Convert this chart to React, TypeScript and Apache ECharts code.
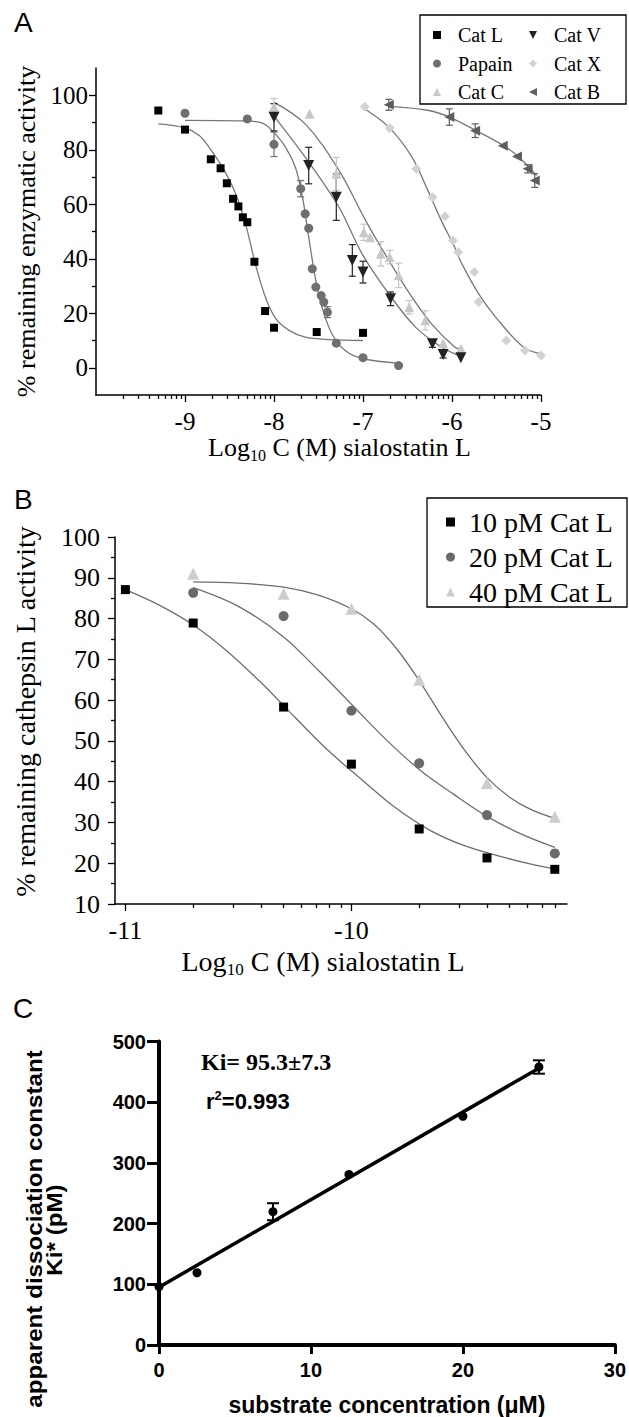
import React, { useEffect, useRef } from "react";
import * as echarts from "echarts";

const SERIF = '"Liberation Serif", "Times New Roman", serif';
const SANS = '"Liberation Sans", Arial, Helvetica, sans-serif';

// ---------- Panel A (x = log10 molar concentration) ----------
const catLX = [-9.3, -9.0, -8.71, -8.6, -8.53, -8.46, -8.4, -8.35, -8.3, -8.22, -8.1, -8.0, -7.52, -7.0];
const catLY = [94.4, 87.4, 76.5, 73.2, 67.7, 62.0, 59.2, 55.2, 53.4, 38.9, 20.8, 14.7, 13.1, 12.8];
const catLFitX = [-9.3, -9.0, -8.84, -8.73, -8.58, -8.43, -8.32, -8.2, -8.09, -7.98, -7.83, -7.65, -7.38, -7.0];
const catLFitY = [89.5, 88.0, 85.2, 80.9, 73.6, 63.8, 52.8, 36.9, 25.3, 18.0, 13.7, 11.2, 10.3, 10.0];

const papainX = [-9.0, -8.3, -8.0, -7.7, -7.65, -7.61, -7.57, -7.53, -7.47, -7.44, -7.4, -7.3, -7.0, -6.6];
const papainY = [93.4, 91.3, 82.0, 65.7, 56.5, 51.2, 36.3, 29.6, 26.5, 24.1, 20.4, 9.0, 3.7, 0.8];
const papainErr = [0, 0, 4.5, 3, 0, 0, 0, 0, 0, 0, 2, 0, 0, 0];
const papainFitX = [-9.0, -8.35, -8.13, -8.02, -7.87, -7.76, -7.68, -7.61, -7.53, -7.46, -7.35, -7.2, -7.0, -6.6];
const papainFitY = [90.8, 90.6, 89.8, 87.0, 80.9, 73.6, 62.6, 47.9, 32.0, 22.2, 12.5, 6.3, 3.3, 1.7];

const catVX = [-8.0, -7.61, -7.3, -7.12, -7.0, -6.69, -6.22, -6.1, -5.9];
const catVY = [91.9, 74.2, 62.6, 39.4, 35.1, 25.3, 8.8, 4.9, 3.7];
const catVErr = [5, 6.7, 8.5, 5.8, 4, 2.5, 1.3, 1.3, 0];
const catVFitX = [-8.02, -7.65, -7.27, -7.01, -6.71, -6.41, -6.12, -5.97, -5.9];
const catVFitY = [93.2, 77.3, 58.9, 41.8, 27.1, 14.9, 7.6, 5.1, 4.5];

const catCX = [-8.0, -7.6, -7.3, -6.99, -6.92, -6.8, -6.7, -6.6, -6.48, -6.3, -6.1, -5.9];
const catCY = [95.8, 93.2, 71.2, 49.7, 47.9, 41.8, 40.6, 33.9, 22.2, 17.4, 9.0, 7.0];
const catCErr = [3, 0, 6, 3, 0, 4.5, 2.5, 4.5, 2.5, 3.5, 0, 0];
const catCFitX = [-8.0, -7.65, -7.27, -6.97, -6.71, -6.45, -6.23, -5.97, -5.9];
const catCFitY = [97.4, 89.5, 72.4, 54.0, 39.4, 25.9, 16.1, 7.6, 6.8];

const catXX = [-6.98, -6.7, -6.4, -6.22, -6.08, -5.99, -5.93, -5.75, -5.7, -5.39, -5.18, -5.0];
const catXY = [95.8, 88.0, 73.0, 62.6, 55.5, 46.7, 42.4, 35.1, 24.1, 10.0, 6.3, 4.5];
const catXFitX = [-7.01, -6.71, -6.45, -6.27, -6.12, -5.97, -5.89, -5.7, -5.51, -5.2, -5.0];
const catXFitY = [95.6, 88.3, 77.3, 65.0, 54.0, 44.2, 38.2, 27.1, 18.6, 7.6, 5.1];

const catBX = [-6.71, -6.03, -5.74, -5.43, -5.27, -5.15, -5.07];
const catBY = [96.5, 92.0, 87.0, 81.5, 77.5, 73.0, 68.7];
const catBErr = [2, 3, 2.5, 0, 0, 1.5, 2.5];
const catBFitX = [-6.69, -6.26, -6.03, -5.74, -5.43, -5.25, -5.05];
const catBFitY = [95.9, 94.4, 92.0, 87.2, 81.7, 77.3, 70.5];

const aXTicks = [-9, -8, -7, -6, -5];
const aDecades = [-10, -9, -8, -7, -6];
const aYTicks = [0, 20, 40, 60, 80, 100];
const aYMinor = [10, 30, 50, 70, 90];

// ---------- Panel B ----------
const b10X = [-11, -10.7, -10.3, -10, -9.7, -9.4, -9.1];
const b10Y = [87.1, 78.9, 58.3, 44.3, 28.4, 21.3, 18.5];
const b20X = [-10.7, -10.3, -10, -9.7, -9.4, -9.1];
const b20Y = [86.3, 80.6, 57.4, 44.5, 31.8, 22.4];
const b40X = [-10.7, -10.3, -10, -9.7, -9.4, -9.1];
const b40Y = [91.0, 86.1, 82.4, 65.0, 39.7, 31.4];
const b10FitX = [-11, -10.85, -10.7, -10.55, -10.4, -10.25, -10.1, -9.95, -9.8, -9.65, -9.5, -9.35, -9.2, -9.1];
const b10FitY = [87.1, 83.3, 78.4, 72.0, 64.3, 55.8, 47.5, 40.3, 33.4, 28.0, 24.3, 21.8, 19.7, 18.6];
const b20FitX = [-10.7, -10.5, -10.3, -10.15, -10.0, -9.85, -9.7, -9.55, -9.4, -9.25, -9.1];
const b20FitY = [87.6, 83.0, 75.5, 67.5, 59.0, 50.5, 43.0, 37.0, 31.5, 27.2, 23.9];
const b40FitX = [-10.7, -10.5, -10.3, -10.15, -10.0, -9.9, -9.8, -9.7, -9.6, -9.5, -9.4, -9.3, -9.2, -9.1];
const b40FitY = [89.0, 88.7, 87.7, 85.8, 82.4, 78.6, 72.6, 64.8, 56.0, 47.8, 41.0, 36.2, 33.0, 31.0];

const bXMin = -11.046;
const bXMax = -9.046;
const bXTicks = [-11, -10];
const bDecades = [-11, -10];
const bYTicks = [10, 20, 30, 40, 50, 60, 70, 80, 90, 100];
const bYMinor = [15, 25, 35, 45, 55, 65, 75, 85, 95];

// ---------- Panel C ----------
const cX = [0, 2.5, 7.5, 12.5, 20, 25];
const cY = [96, 119, 219.6, 281, 376.8, 458];
const cErr = [0, 0, 14, 0, 0, 11];
const cFitX = [0, 25];
const cFitY = [95.3, 456];

const LOG_MULTS = [2, 3, 4, 5, 6, 7, 8, 9];
const aXMinor = aDecades.flatMap((d) => LOG_MULTS.map((k) => d + Math.log10(k)));
const bXMinor = bDecades.flatMap((d) => LOG_MULTS.map((k) => d + Math.log10(k)));

const zip = (xs: number[], ys: number[]) => xs.map((x, i) => [x, ys[i]]);

function scatter(name: string, xs: number[], ys: number[], axis: number, symbol: string, size: number, color: string, rotate = 0) {
  return {
    type: "scatter",
    name,
    xAxisIndex: axis,
    yAxisIndex: axis,
    data: zip(xs, ys),
    symbol,
    symbolSize: size,
    symbolRotate: rotate,
    itemStyle: { color, opacity: 1 },
    z: 5,
    silent: true,
  };
}

function fit(name: string, xs: number[], ys: number[], axis: number, color: string, width: number, smooth: number | boolean) {
  return {
    type: "line",
    name,
    xAxisIndex: axis,
    yAxisIndex: axis,
    data: zip(xs, ys),
    showSymbol: false,
    symbol: "none",
    smooth,
    lineStyle: { color, width },
    z: 3,
    silent: true,
  };
}

function errorBars(name: string, xs: number[], ys: number[], errs: number[], axis: number, color: string, cap: number, lw: number) {
  const data = xs
    .map((x, i) => [x, ys[i] - errs[i], ys[i] + errs[i], errs[i]])
    .filter((d) => d[3] > 0);
  return {
    type: "custom",
    name,
    xAxisIndex: axis,
    yAxisIndex: axis,
    data,
    encode: { x: 0, y: [1, 2] },
    z: 4,
    silent: true,
    renderItem: (params: any, api: any) => {
      const x = api.value(0);
      const top = api.coord([x, api.value(2)]);
      const bot = api.coord([x, api.value(1)]);
      const st = { stroke: color, lineWidth: lw };
      return {
        type: "group",
        children: [
          { type: "line", shape: { x1: top[0], y1: top[1], x2: bot[0], y2: bot[1] }, style: st },
          { type: "line", shape: { x1: top[0] - cap, y1: top[1], x2: top[0] + cap, y2: top[1] }, style: st },
          { type: "line", shape: { x1: bot[0] - cap, y1: bot[1], x2: bot[0] + cap, y2: bot[1] }, style: st },
        ],
      };
    },
  };
}

const thin = { color: "#000", width: 1.5 };
const tickThin = { color: "#000", width: 1.3 };

function minorAxis(gridIndex: number, min: number, max: number, values: number[], position: string) {
  return {
    type: "value",
    gridIndex,
    min,
    max,
    position,
    offset: 0,
    axisLine: { show: false, onZero: false },
    axisTick: { show: true, customValues: values, length: 4, lineStyle: tickThin },
    axisLabel: { show: false },
    splitLine: { show: false },
  };
}

const logTitle = (size: number, subSize: number) => ({
  fontFamily: SERIF,
  fontSize: size,
  color: "#000",
  rich: {
    a: { fontFamily: SERIF, fontSize: size, color: "#000" },
    s: { fontFamily: SERIF, fontSize: subSize, color: "#000", padding: [subSize, 0, 0, 0] },
  },
});

const DOWN_TRI = "path://M0,0L10,0L5,10Z";
const LEFT_TRI = "path://M10,0L10,10L0,5Z";

export default function App() {
  const ref = useRef<HTMLDivElement>(null);
  useEffect(() => {
    document.body.style.margin = "0";
    if (!ref.current) return;
    const chart = echarts.init(ref.current, null, { renderer: "svg" });
    const legendTextA = { fontFamily: SERIF, fontSize: 20, lineHeight: 20, color: "#000", padding: [0, 0, 0, 12] };
    const option: any = {
      animation: false,
      backgroundColor: "#fff",
      grid: [
        { left: 96, top: 68, width: 445, height: 327 },
        { left: 115, top: 537, width: 452, height: 367 },
        { left: 159, top: 1041.5, width: 456, height: 303.5 },
      ],
      xAxis: [
        {
          type: "value",
          gridIndex: 0,
          min: -10,
          max: -5,
          position: "bottom",
          axisLine: { show: true, onZero: false, lineStyle: thin },
          axisTick: { show: true, customValues: aXTicks, length: 7, lineStyle: tickThin },
          axisLabel: { customValues: aXTicks, margin: 14, fontSize: 25, fontFamily: SERIF, color: "#000", formatter: (v: number) => String(v) },
          splitLine: { show: false },
          name: "{a|Log}{s|10}{a| C (M) sialostatin L}",
          nameLocation: "middle",
          nameGap: 35,
          nameTextStyle: { ...logTitle(26, 16), padding: [0, 0, 0, 42] },
        },
        minorAxis(0, -10, -5, aXMinor, "bottom"),
        {
          type: "value",
          gridIndex: 1,
          min: bXMin,
          max: bXMax,
          position: "bottom",
          axisLine: { show: true, onZero: false, lineStyle: thin },
          axisTick: { show: true, customValues: bXTicks, length: 7, lineStyle: tickThin },
          axisLabel: { customValues: bXTicks, margin: 13, fontSize: 26, fontFamily: SERIF, color: "#000", formatter: (v: number) => String(v) },
          splitLine: { show: false },
          name: "{a|Log}{s|10}{a| C (M) sialostatin L}",
          nameLocation: "middle",
          nameGap: 40,
          nameTextStyle: { ...logTitle(28, 17), padding: [0, 36, 0, 0] },
        },
        minorAxis(1, bXMin, bXMax, bXMinor, "bottom"),
        {
          type: "value",
          gridIndex: 2,
          min: 0,
          max: 30,
          interval: 10,
          position: "bottom",
          axisLine: { show: true, onZero: false, lineStyle: { color: "#000", width: 4 } },
          axisTick: { show: true, length: 9, lineStyle: { color: "#000", width: 3 } },
          axisLabel: { margin: 15, fontSize: 20, fontWeight: "bold", fontFamily: SANS, color: "#000" },
          splitLine: { show: false },
          name: "substrate concentration (μM)",
          nameLocation: "middle",
          nameGap: 48,
          nameTextStyle: { fontSize: 23, fontWeight: "bold", fontFamily: SANS, color: "#000" },
        },
      ],
      yAxis: [
        {
          type: "value",
          gridIndex: 0,
          min: -10,
          max: 110,
          position: "left",
          axisLine: { show: true, onZero: false, lineStyle: thin },
          axisTick: { show: true, customValues: aYTicks, length: 7, lineStyle: tickThin },
          axisLabel: { customValues: aYTicks, margin: 8, fontSize: 25, fontFamily: SERIF, color: "#000" },
          splitLine: { show: false },
          name: "% remaining enzymatic activity",
          nameLocation: "middle",
          nameGap: 56,
          nameTextStyle: { fontSize: 26, fontFamily: SERIF, color: "#000" },
        },
        minorAxis(0, -10, 110, aYMinor, "left"),
        {
          type: "value",
          gridIndex: 1,
          min: 10,
          max: 100,
          position: "left",
          axisLine: { show: true, onZero: false, lineStyle: thin },
          axisTick: { show: true, customValues: bYTicks, length: 7, lineStyle: tickThin },
          axisLabel: { customValues: bYTicks, margin: 15, fontSize: 26, fontFamily: SERIF, color: "#000" },
          splitLine: { show: false },
          name: "% remaining cathepsin L activity",
          nameLocation: "middle",
          nameGap: 76,
          nameTextStyle: { fontSize: 28, fontFamily: SERIF, color: "#000", padding: [0, 0, 0, 18] },
        },
        minorAxis(1, 10, 100, bYMinor, "left"),
        {
          type: "value",
          gridIndex: 2,
          min: 0,
          max: 500,
          interval: 100,
          position: "left",
          axisLine: { show: true, onZero: false, lineStyle: { color: "#000", width: 4 } },
          axisTick: { show: true, length: 12, lineStyle: { color: "#000", width: 3 } },
          axisLabel: { margin: 13, fontSize: 20, fontWeight: "bold", fontFamily: SANS, color: "#000" },
          splitLine: { show: false },
        },
      ],
      legend: [
        {
          left: 433,
          top: 25,
          orient: "vertical",
          padding: 0,
          selectedMode: false,
          data: ["Cat L", "Papain", "Cat C"],
          itemWidth: 8,
          itemHeight: 8,
          itemGap: 8.5,
          textStyle: legendTextA,
        },
        {
          left: 529,
          top: 25,
          orient: "vertical",
          padding: 0,
          selectedMode: false,
          data: [{ name: "Cat V", icon: DOWN_TRI }, "Cat X", { name: "Cat B", icon: LEFT_TRI }],
          itemWidth: 8,
          itemHeight: 8,
          itemGap: 8.5,
          textStyle: legendTextA,
        },
        {
          left: 446,
          top: 508,
          orient: "vertical",
          padding: 0,
          selectedMode: false,
          data: ["10 pM Cat L", "20 pM Cat L", "40 pM Cat L"],
          itemWidth: 9,
          itemHeight: 9,
          itemGap: 7,
          textStyle: { fontFamily: SERIF, fontSize: 28, lineHeight: 28, color: "#000", padding: [0, 0, 0, 9] },
        },
      ],
      graphic: [
        { type: "text", x: 14, y: 22.5, style: { text: "A", fontSize: 28, fontFamily: SANS, fill: "#000", textVerticalAlign: "middle" } },
        { type: "text", x: 14, y: 499, style: { text: "B", fontSize: 28, fontFamily: SANS, fill: "#000", textVerticalAlign: "middle" } },
        { type: "text", x: 13, y: 1008.5, style: { text: "C", fontSize: 28, fontFamily: SANS, fill: "#000", textVerticalAlign: "middle" } },
        { type: "rect", shape: { x: 420, y: 15, width: 206, height: 89 }, style: { fill: "none", stroke: "#000", lineWidth: 1.3 }, z: 100 },
        { type: "rect", shape: { x: 427, y: 498, width: 200, height: 109 }, style: { fill: "none", stroke: "#000", lineWidth: 1.3 }, z: 100 },
        {
          type: "text",
          x: 34,
          y: 1229,
          rotation: Math.PI / 2,
          scaleX: 1.1,
          style: { text: "apparent dissociation constant", fontSize: 22, fontWeight: "bold", fontFamily: SANS, fill: "#000", textAlign: "center", textVerticalAlign: "middle" },
        },
        {
          type: "text",
          x: 54,
          y: 1230,
          rotation: Math.PI / 2,
          scaleX: 1.1,
          style: { text: "Ki* (pM)", fontSize: 22, fontWeight: "bold", fontFamily: SANS, fill: "#000", textAlign: "center", textVerticalAlign: "middle" },
        },
        {
          type: "text",
          x: 201,
          y: 1062,
          style: { text: "Ki= 95.3±7.3", fontSize: 24, fontWeight: "bold", fontFamily: SERIF, fill: "#000", textVerticalAlign: "middle" },
        },
        {
          type: "text",
          x: 206,
          y: 1101,
          style: {
            text: "{a|r}{s|2}{a|=0.993}",
            textVerticalAlign: "middle",
            rich: {
              a: { fontSize: 22, fontWeight: "bold", fontFamily: SANS, fill: "#000" },
              s: { fontSize: 13, fontWeight: "bold", fontFamily: SANS, fill: "#000", padding: [0, 0, 12, 0] },
            },
          },
        },
      ],
      series: [
        // Panel A fits
        fit("Cat L fit", catLFitX, catLFitY, 0, "#777", 1.3, 0.35),
        fit("Papain fit", papainFitX, papainFitY, 0, "#777", 1.3, 0.35),
        fit("Cat V fit", catVFitX, catVFitY, 0, "#777", 1.3, 0.35),
        fit("Cat C fit", catCFitX, catCFitY, 0, "#777", 1.3, 0.35),
        fit("Cat X fit", catXFitX, catXFitY, 0, "#777", 1.3, 0.35),
        fit("Cat B fit", catBFitX, catBFitY, 0, "#777", 1.3, 0.35),
        // Panel A error bars
        errorBars("Papain err", papainX, papainY, papainErr, 0, "#6f6f6f", 3.5, 1.2),
        errorBars("Cat V err", catVX, catVY, catVErr, 0, "#222", 3.5, 1.2),
        errorBars("Cat C err", catCX, catCY, catCErr, 0, "#c4c4c4", 3.5, 1.2),
        errorBars("Cat B err", catBX, catBY, catBErr, 0, "#5e5e5e", 3.5, 1.2),
        // Panel A points
        scatter("Cat X", catXX, catXY, 0, "diamond", 10, "#d2d2d2"),
        scatter("Cat C", catCX, catCY, 0, "triangle", 10, "#c8c8c8"),
        scatter("Cat B", catBX, catBY, 0, "triangle", 10, "#5e5e5e", 90),
        scatter("Papain", papainX, papainY, 0, "circle", 9, "#6f6f6f"),
        scatter("Cat V", catVX, catVY, 0, "triangle", 11, "#222", 180),
        scatter("Cat L", catLX, catLY, 0, "rect", 8, "#000"),
        // Panel B
        fit("10 pM fit", b10FitX, b10FitY, 2, "#6e6e6e", 1.3, 0.35),
        fit("20 pM fit", b20FitX, b20FitY, 2, "#6e6e6e", 1.3, 0.35),
        fit("40 pM fit", b40FitX, b40FitY, 2, "#6e6e6e", 1.3, 0.35),
        scatter("40 pM Cat L", b40X, b40Y, 2, "triangle", 12, "#cdcdcd"),
        scatter("20 pM Cat L", b20X, b20Y, 2, "circle", 10, "#6a6a6a"),
        scatter("10 pM Cat L", b10X, b10Y, 2, "rect", 9, "#000"),
        // Panel C
        fit("Ki fit", cFitX, cFitY, 4, "#000", 3.5, false),
        errorBars("Ki err", cX, cY, cErr, 4, "#000", 6, 2),
        scatter("Ki*", cX, cY, 4, "circle", 9, "#000"),
      ],
    };
    chart.setOption(option);
    return () => chart.dispose();
  }, []);
  return <div ref={ref} style={{ width: 629, height: 1417 }} />;
}
